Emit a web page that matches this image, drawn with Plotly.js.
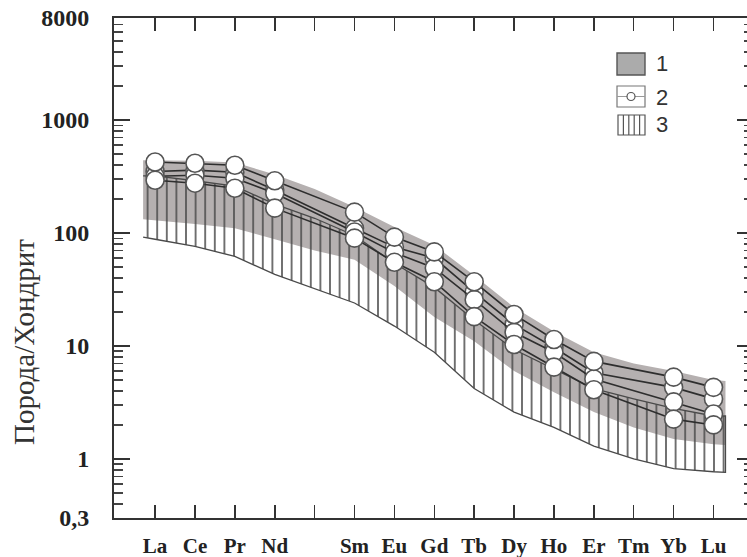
<!DOCTYPE html>
<html>
<head>
<meta charset="utf-8">
<script src="https://cdn.plot.ly/plotly-3.0.1.min.js"></script>
<style>
html,body{margin:0;padding:0;overflow:hidden;background:#fff;}
#chart{width:760px;height:557px;}
</style>
</head>
<body>
<div id="chart"></div>
<script>
// ---- Data (chondrite-normalised REE) ----
var elements = ['La','Ce','Pr','Nd','Pm','Sm','Eu','Gd','Tb','Dy','Ho','Er','Tm','Yb','Lu'];
var tickLabels = ['La','Ce','Pr','Nd','','Sm','Eu','Gd','Tb','Dy','Ho','Er','Tm','Yb','Lu'];

// group 2: analysed samples (circles)
var sampleElems = ['La','Ce','Pr','Nd','Sm','Eu','Gd','Tb','Dy','Ho','Er','Yb','Lu'];
var sampleA = [425, 414, 398, 290, 153, 92, 68, 37, 19, 11.4, 7.3, 5.3, 4.3];
var sampleB = [350, 360, 345, 240, 110, 75, 60, 30, 15.5, 9.7, 5.8, 4.3, 3.4];
var sampleC = [318, 324, 305, 225, 102, 67, 49, 25.7, 13.2, 8.8, 5.1, 3.2, 2.5];
var sampleD = [293, 276, 249, 166, 90, 55, 37, 18.2, 10.3, 6.5, 4.1, 2.25, 2.0];

// field boundaries (positions along the element axis, incl. small overhang past La and Lu)
var fieldX = [-0.3, 0, 1, 2, 3, 4, 5, 6, 7, 8, 9, 10, 11, 12, 13, 14, 14.3];
// field 1 (grey)
var field1Upper = [440, 440, 435, 420, 330, 245, 170, 113, 78, 42, 22, 13.4, 8.8, 7.0, 6.0, 5.0, 4.9];
var field1Lower = [132, 130, 120, 110, 88, 70, 58, 34, 18, 11, 6, 3.9, 2.6, 1.9, 1.5, 1.35, 1.33];
// field 3 (hatched)
var field3Upper = [320, 320, 290, 260, 180, 135, 95, 54, 33, 17, 9.3, 6.2, 4.2, 3.4, 2.8, 2.4, 2.4];
var field3Lower = [92, 88, 76, 62, 43, 32, 24, 15, 8.8, 4.2, 2.6, 1.9, 1.3, 1.0, 0.82, 0.77, 0.76];

// y axis ticks
var yTickVals = [0.3, 1, 10, 100, 1000, 8000];
var yTickText = ['0,3', '1', '10', '100', '1000', '8000'];
var legendLabels = ['1', '2', '3'];
var yTitle = 'Порода/Хондрит';

// ---- build ----
function idx(list){ return list.map(function(e){ return elements.indexOf(e); }); }
function polyX(){ return fieldX.concat(fieldX.slice().reverse()); }
function polyY(up, lo){ return up.concat(lo.slice().reverse()); }

var minorVals = [];
[0.1, 1, 10, 100, 1000].forEach(function(d){
  for (var k = 2; k <= 9; k++){ var v = d * k; if (v > 0.3 && v < 8000) minorVals.push(v); }
});

var traces = [];
traces.push({
  x: polyX(), y: polyY(field1Upper, field1Lower), mode: 'lines', fill: 'toself',
  fillcolor: '#b5b0b0', line: {width: 0, color: '#b5b0b0'}, hoverinfo: 'skip', showlegend: false
});
traces.push({
  x: polyX(), y: polyY(field3Upper, field3Lower), mode: 'lines', fill: 'toself',
  fillcolor: 'rgba(0,0,0,0)',
  fillpattern: {shape: '|', size: 9.6, solidity: 0.16, fgcolor: '#4a4a4a', bgcolor: 'rgba(0,0,0,0)', fillmode: 'replace'},
  line: {width: 1.3, color: '#4a4a4a'}, hoverinfo: 'skip', showlegend: false
});
var sx = idx(sampleElems);
[sampleB, sampleC, sampleA, sampleD].forEach(function(s){
  traces.push({
    x: sx, y: s, mode: 'lines+markers',
    line: {color: '#2e2e2e', width: 1.6},
    marker: {symbol: 'circle', size: 18, color: '#ffffff', line: {color: '#555555', width: 1.6}},
    showlegend: false, hoverinfo: 'skip'
  });
});

// pixel helpers for decorations (plot area: x 114..753, y 18..518)
var L = 114, W = 639, T = 18, H = 500;
function px(v){ return (v - L) / W; }
function py(v){ return (T + H - v) / H; }

var shapes = [];
var annotations = [];
// legend item 1: grey box
shapes.push({type:'rect', xref:'paper', yref:'paper', x0:px(617), x1:px(645), y0:py(75), y1:py(53),
  fillcolor:'#ababab', line:{color:'#555', width:1.4}});
// legend item 2: box with circle
shapes.push({type:'rect', xref:'paper', yref:'paper', x0:px(617), x1:px(645), y0:py(107), y1:py(86),
  fillcolor:'#ffffff', line:{color:'#777', width:1.2}});
shapes.push({type:'line', xref:'paper', yref:'paper', x0:px(617), x1:px(645), y0:py(96.5), y1:py(96.5),
  line:{color:'#999', width:1}});
shapes.push({type:'circle', xref:'paper', yref:'paper', x0:px(627), x1:px(635), y0:py(100.5), y1:py(92.5),
  fillcolor:'#ffffff', line:{color:'#555', width:1.2}});
// legend item 3: hatched box
shapes.push({type:'rect', xref:'paper', yref:'paper', x0:px(618), x1:px(645), y0:py(135), y1:py(115),
  fillcolor:'#ffffff', line:{color:'#555', width:1.2}});
[623.4, 628.8, 634.2, 639.6].forEach(function(xx){
  shapes.push({type:'line', xref:'paper', yref:'paper', x0:px(xx), x1:px(xx), y0:py(135), y1:py(115),
    line:{color:'#555', width:1.2}});
});
[64, 97, 125].forEach(function(yy, i){
  annotations.push({xref:'paper', yref:'paper', x:px(654), y:py(yy), xanchor:'left', yanchor:'middle',
    text: legendLabels[i], showarrow:false, font:{family:'Liberation Sans, Arial, sans-serif', size:22, color:'#333'}});
});
// y title
annotations.push({xref:'paper', yref:'paper', x:px(24), y:py(342), xanchor:'center', yanchor:'middle',
  text: yTitle, textangle:-90, showarrow:false,
  font:{family:'Liberation Serif, Times New Roman, serif', size:29, color:'#333'}});

var layout = {
  width: 760, height: 557,
  margin: {l: L, r: 760 - L - W, t: T, b: 557 - T - H, pad: 0},
  paper_bgcolor: '#ffffff', plot_bgcolor: '#ffffff',
  showlegend: false,
  xaxis: {
    range: [-1.03, 14.99], tickmode: 'array', tickvals: elements.map(function(e, i){ return i; }), ticktext: tickLabels,
    ticks: 'inside', ticklen: 13, tickwidth: 1.5, tickcolor: '#333',
    showline: true, linecolor: '#333', linewidth: 2, mirror: 'ticks',
    showgrid: false, zeroline: false,
    tickfont: {family: 'Liberation Serif, Times New Roman, serif', size: 21, color: '#222', weight: 'bold'},
    ticklabelstandoff: 8
  },
  yaxis: {
    type: 'log', range: [Math.log10(0.3), Math.log10(8000)],
    tickmode: 'array', tickvals: yTickVals, ticktext: yTickText,
    ticks: 'inside', ticklen: 16, tickwidth: 1.6, tickcolor: '#333',
    minor: {tickmode: 'array', tickvals: minorVals, ticks: 'inside', ticklen: 9, tickwidth: 1.3, tickcolor: '#444', showgrid: false},
    showline: true, linecolor: '#333', linewidth: 2, mirror: 'ticks',
    showgrid: false, zeroline: false,
    tickfont: {family: 'Liberation Serif, Times New Roman, serif', size: 24, color: '#222', weight: 'bold'},
    ticklabelstandoff: 18
  },
  shapes: shapes,
  annotations: annotations
};

Plotly.newPlot('chart', traces, layout, {displayModeBar: false, staticPlot: true});
</script>
</body>
</html>
